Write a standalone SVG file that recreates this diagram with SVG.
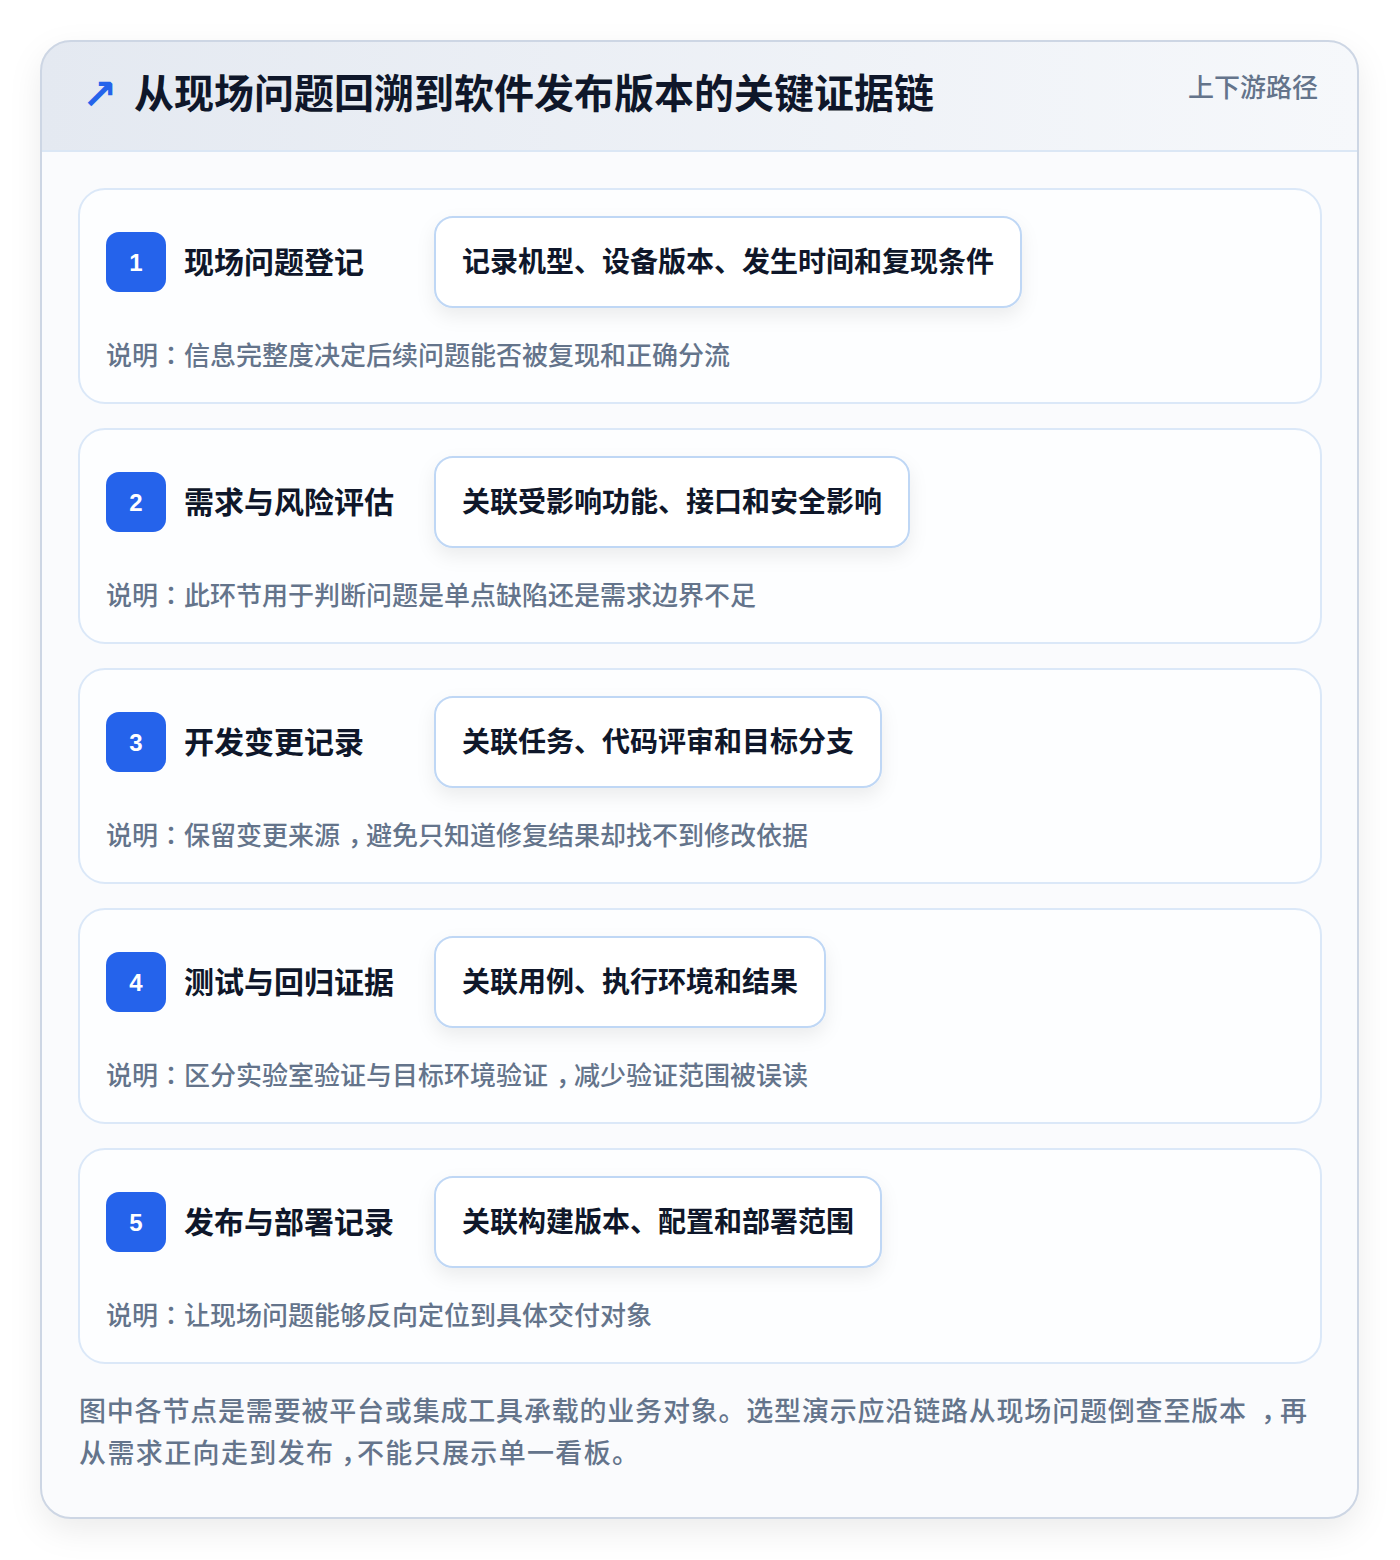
<svg xmlns="http://www.w3.org/2000/svg" width="1400" height="1560" viewBox="0 0 1400 1560">
<defs>
<linearGradient id="hdr" x1="0" y1="0" x2="1" y2="0">
<stop offset="0" stop-color="#e4e9f1"/>
<stop offset="1" stop-color="#f6f8fb"/>
</linearGradient>
<clipPath id="outerClip"><rect x="41" y="41" width="1317" height="1477" rx="30"/></clipPath>
<filter id="outerShadow" x="-10%" y="-10%" width="120%" height="120%">
<feDropShadow dx="0" dy="12" stdDeviation="16" flood-color="#0f172a" flood-opacity="0.08"/>
</filter>
<filter id="pillShadow" x="-10%" y="-30%" width="120%" height="170%">
<feDropShadow dx="0" dy="8" stdDeviation="9" flood-color="#0f172a" flood-opacity="0.07"/>
</filter>
<style>
.card{fill:#fdfeff;stroke:#dbe8f8;stroke-width:2}
.badge{fill:#2563eb}
.num{font-family:"Liberation Sans","Noto Sans",sans-serif;font-weight:700;font-size:24px;fill:#ffffff;text-anchor:middle}
.title{font-family:"Noto Sans CJK SC",sans-serif;font-weight:700;font-size:30px;fill:#0f172a}
.pill{fill:#ffffff;stroke:#bfd7f5;stroke-width:2}
.pilltxt{font-family:"Noto Sans CJK SC",sans-serif;font-weight:700;font-size:28px;fill:#0f172a}
.desc{font-family:"Noto Sans CJK SC",sans-serif;font-weight:500;font-size:26px;fill:#64748b}
.foot{font-family:"Noto Sans CJK SC",sans-serif;font-weight:500;font-size:27px;fill:#64748b}
.p{font-family:"Noto Sans CJK TC",sans-serif}
.c{letter-spacing:-8px}
</style>
</defs>
<rect x="0" y="0" width="1400" height="1560" fill="#ffffff"/>
<g id="frame">
<rect x="41" y="41" width="1317" height="1477" rx="30" fill="#fafbfd" filter="url(#outerShadow)"/>
<g clip-path="url(#outerClip)">
<rect x="41" y="41" width="1317" height="110" fill="url(#hdr)"/>
<line x1="41" y1="151" x2="1358" y2="151" stroke="#dbe7f5" stroke-width="2"/>
</g>
<rect x="41" y="41" width="1317" height="1477" rx="30" fill="none" stroke="#cdd6e4" stroke-width="2"/>
</g>
<g id="header">
<text x="82" y="109" font-family="DejaVu Sans,sans-serif" font-weight="700" font-size="42" fill="#2563eb">↗</text>
<text x="134" y="108" font-family="Noto Sans CJK SC,sans-serif" font-weight="700" font-size="40" fill="#0f172a">从现场问题回溯到软件发布版本的关键证据链</text>
<text x="1318" y="97" text-anchor="end" font-family="Noto Sans CJK SC,sans-serif" font-weight="500" font-size="26" fill="#64748b">上下游路径</text>
</g>
<g id="connectors"></g>
<g id="node1">
<rect class="card" x="79" y="189" width="1242" height="214" rx="26"/>
<rect class="badge" x="106" y="232" width="60" height="60" rx="13"/>
<text class="num" x="136" y="271">1</text>
<text class="title" x="184" y="273">现场问题登记</text>
<rect class="pill" x="435" y="217" width="586" height="90" rx="18" filter="url(#pillShadow)"/>
<text class="pilltxt" x="462" y="272">记录机型、设备版本、发生时间和复现条件</text>
<text class="desc" x="106" y="365">说明<tspan class="p">：</tspan>信息完整度决定后续问题能否被复现和正确分流</text>
</g>
<g id="node2">
<rect class="card" x="79" y="429" width="1242" height="214" rx="26"/>
<rect class="badge" x="106" y="472" width="60" height="60" rx="13"/>
<text class="num" x="136" y="511">2</text>
<text class="title" x="184" y="513">需求与风险评估</text>
<rect class="pill" x="435" y="457" width="474" height="90" rx="18" filter="url(#pillShadow)"/>
<text class="pilltxt" x="462" y="512">关联受影响功能、接口和安全影响</text>
<text class="desc" x="106" y="605">说明<tspan class="p">：</tspan>此环节用于判断问题是单点缺陷还是需求边界不足</text>
</g>
<g id="node3">
<rect class="card" x="79" y="669" width="1242" height="214" rx="26"/>
<rect class="badge" x="106" y="712" width="60" height="60" rx="13"/>
<text class="num" x="136" y="751">3</text>
<text class="title" x="184" y="753">开发变更记录</text>
<rect class="pill" x="435" y="697" width="446" height="90" rx="18" filter="url(#pillShadow)"/>
<text class="pilltxt" x="462" y="752">关联任务、代码评审和目标分支</text>
<text class="desc" x="106" y="845">说明<tspan class="p">：</tspan>保留变更来源<tspan class="c" dx="8">，</tspan>避免只知道修复结果却找不到修改依据</text>
</g>
<g id="node4">
<rect class="card" x="79" y="909" width="1242" height="214" rx="26"/>
<rect class="badge" x="106" y="952" width="60" height="60" rx="13"/>
<text class="num" x="136" y="991">4</text>
<text class="title" x="184" y="993">测试与回归证据</text>
<rect class="pill" x="435" y="937" width="390" height="90" rx="18" filter="url(#pillShadow)"/>
<text class="pilltxt" x="462" y="992">关联用例、执行环境和结果</text>
<text class="desc" x="106" y="1085">说明<tspan class="p">：</tspan>区分实验室验证与目标环境验证<tspan class="c" dx="8">，</tspan>减少验证范围被误读</text>
</g>
<g id="node5">
<rect class="card" x="79" y="1149" width="1242" height="214" rx="26"/>
<rect class="badge" x="106" y="1192" width="60" height="60" rx="13"/>
<text class="num" x="136" y="1231">5</text>
<text class="title" x="184" y="1233">发布与部署记录</text>
<rect class="pill" x="435" y="1177" width="446" height="90" rx="18" filter="url(#pillShadow)"/>
<text class="pilltxt" x="462" y="1232">关联构建版本、配置和部署范围</text>
<text class="desc" x="106" y="1325">说明<tspan class="p">：</tspan>让现场问题能够反向定位到具体交付对象</text>
</g>
<g id="footer">
<text class="foot" y="1421"><tspan x="79" textLength="1167" lengthAdjust="spacing">图中各节点是需要被平台或集成工具承载的业务对象。选型演示应沿链路从现场问题倒查至版本</tspan><tspan x="1261" style="letter-spacing:-8px">，</tspan><tspan x="1280">再</tspan></text>
<text class="foot" y="1463"><tspan x="79" textLength="254" lengthAdjust="spacing">从需求正向走到发布</tspan><tspan x="341" style="letter-spacing:-11px">，</tspan><tspan x="357" textLength="282" lengthAdjust="spacing">不能只展示单一看板。</tspan></text>
</g>
</svg>
